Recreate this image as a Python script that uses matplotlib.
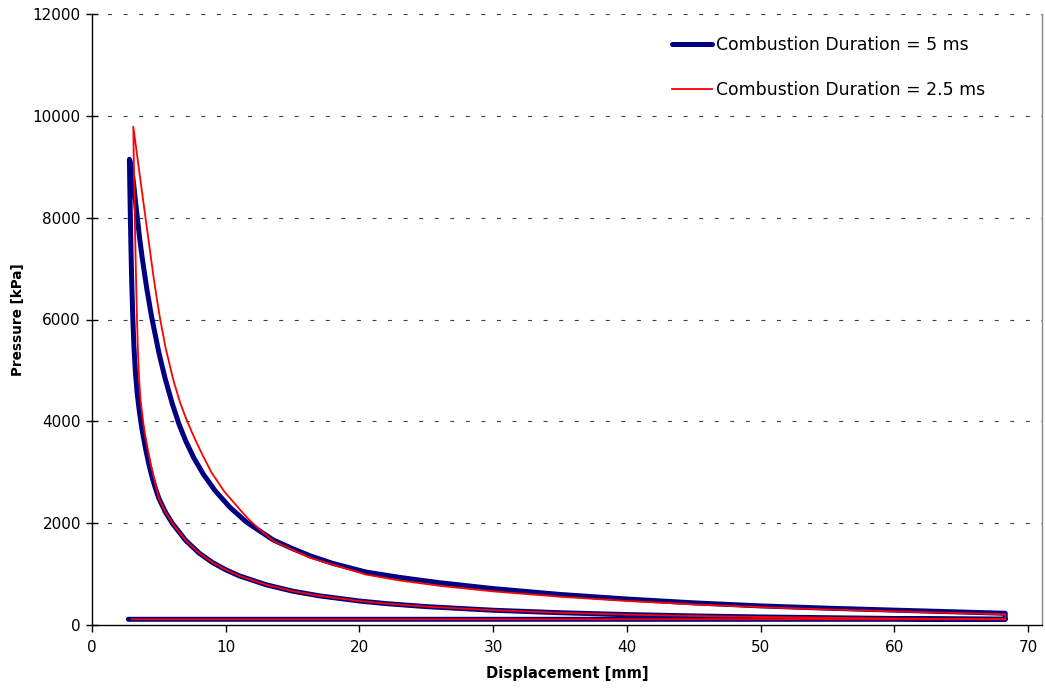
import matplotlib
matplotlib.use("Agg")
import matplotlib.pyplot as plt

# ---------------- data ----------------
# Combustion Duration = 5 ms
b5_intake_x = [2.72, 68.3]
b5_intake_p = [112, 112]
b5_comp_x = [68.3, 60, 50, 45, 40, 35, 30, 25, 22, 20, 17, 15, 13, 11, 10, 9, 8, 7, 6,
             5.5, 5.0, 4.75, 4.52, 4.25, 4.0, 3.75, 3.55, 3.38, 3.25, 3.14, 3.05, 2.97,
             2.91, 2.86, 2.82, 2.80]
b5_comp_p = [112, 128, 158, 178, 205, 241, 290, 361, 420, 471, 573, 665, 792, 967, 1085, 1229,
             1415, 1663, 2000, 2213, 2487, 2680, 2880, 3160, 3470, 3830, 4180, 4550, 4950,
             5450, 6050, 6750, 7450, 8150, 8750, 9146]
b5_exp_x = [2.80, 2.84, 2.9, 3.0, 3.14, 3.26, 3.39, 3.56, 3.75, 4.1, 4.46, 5.0, 5.46, 6.0,
            6.5, 7.0, 7.6, 8.33, 9.2, 10.32, 11.57, 13.56, 15.0, 16.3, 18.0, 20.5, 23, 26,
            30, 35, 40, 45, 50, 55, 60, 65, 68.3, 68.3]
b5_exp_p = [9146, 9120, 9050, 8900, 8600, 8300, 8000, 7600, 7220, 6600, 6050, 5350, 4850,
            4350, 3950, 3620, 3290, 2960, 2640, 2310, 2017, 1669, 1500, 1360, 1210, 1040,
            935, 830, 715, 600, 510, 435, 375, 330, 292, 255, 230, 118]

# Combustion Duration = 2.5 ms
r25_intake_x = [2.97, 68.3]
r25_intake_p = [112, 112]
r25_comp_x = [68.3, 60, 50, 45, 40, 35, 30, 25, 22, 20, 17, 15, 13, 11, 10, 9, 8, 7, 6,
              5.5, 5.0, 4.71, 4.4, 4.1, 3.9, 3.75, 3.62, 3.52, 3.44, 3.37, 3.31, 3.25,
              3.19, 3.14, 3.11, 3.09]
r25_comp_p = [112, 128, 158, 178, 205, 241, 290, 361, 420, 471, 573, 665, 792, 967, 1085,
              1229, 1415, 1663, 2000, 2213, 2487, 2800, 3150, 3550, 3850, 4150, 4450, 4850,
              5350, 5950, 6600, 7350, 8150, 8900, 9400, 9787]
r25_exp_x = [3.09, 3.3, 3.6, 4.0, 4.3, 4.59, 4.84, 5.09, 5.5, 6.08, 6.6, 7.08, 7.7, 8.3,
             8.95, 9.9, 10.87, 11.7, 12.57, 13.56, 16.3, 20.5, 23, 26, 30, 35, 40, 45, 50,
             55, 60, 65, 68.3, 68.3]
r25_exp_p = [9787, 9370, 8780, 8000, 7420, 6860, 6420, 6020, 5450, 4812, 4360, 4026, 3650,
             3320, 2990, 2620, 2324, 2080, 1866, 1650, 1320, 990, 875, 770, 660, 555, 472,
             405, 350, 305, 268, 232, 210, 118]

series_labels = ["Combustion Duration = 5 ms", "Combustion Duration = 2.5 ms"]
x_ticks = [0, 10, 20, 30, 40, 50, 60, 70]
y_ticks = [0, 2000, 4000, 6000, 8000, 10000, 12000]

# ---------------- figure ----------------
plt.rcParams['font.family'] = ['DejaVu Sans']
fig = plt.figure(figsize=(10.45, 6.88), dpi=100)
ax = fig.add_axes([92 / 1045, 1 - 625 / 688, (1042 - 92) / 1045, (625 - 14) / 688])

bx = b5_intake_x + b5_comp_x + b5_exp_x
bp = b5_intake_p + b5_comp_p + b5_exp_p
rx = r25_intake_x + r25_comp_x + r25_exp_x
rp = r25_intake_p + r25_comp_p + r25_exp_p

ax.plot(bx, bp, color='#000080', lw=3.6, solid_capstyle='round',
        solid_joinstyle='round', label=series_labels[0], zorder=3)
ax.plot(rx, rp, color='#FF0000', lw=1.3, solid_joinstyle='round',
        label=series_labels[1], zorder=4)

ax.set_xlim(0, 71.05)
ax.set_ylim(0, 12000)
ax.set_xticks(x_ticks)
ax.set_yticks(y_ticks)

for y in y_ticks[1:]:
    ax.axhline(y, color='#404040', lw=0.8, dashes=(3.6, 10.4), zorder=1)

ax.spines['top'].set_visible(False)
ax.spines['right'].set_color('#888888')
ax.spines['right'].set_linewidth(1.0)
ax.spines['left'].set_linewidth(1.0)
ax.spines['bottom'].set_linewidth(1.0)

ax.tick_params(axis='x', direction='out', length=5, width=1, pad=6, labelsize=11)
ax.tick_params(axis='y', direction='inout', length=8, width=1, pad=4, labelsize=11)

ax.set_xlabel("Displacement [mm]", fontsize=10.6, fontweight='bold', labelpad=8)
ax.set_ylabel("Pressure [kPa]", fontsize=9.8, fontweight='bold', labelpad=5.5)

leg = ax.legend(loc='upper left', bbox_to_anchor=((672 - 92) / 950, 1 - (36 - 14) / 611),
                frameon=False, fontsize=12.4, handlelength=2.3, handletextpad=0.25,
                labelspacing=1.57, borderaxespad=0, borderpad=0)

fig.savefig("out.png", dpi=100)
